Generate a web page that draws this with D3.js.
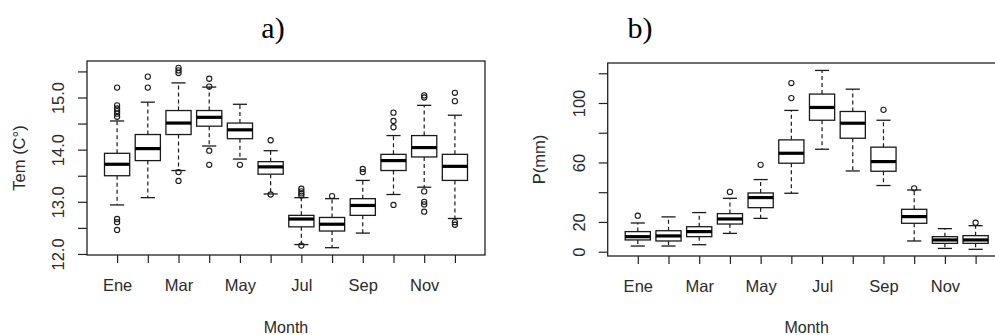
<!DOCTYPE html>
<html>
<head>
<meta charset="utf-8">
<script src="https://cdn.jsdelivr.net/npm/d3@7"></script>
<style>
  html, body { margin: 0; padding: 0; background: #fff; }
  svg { display: block; }
</style>
</head>
<body>
<svg id="chart" width="995" height="335"></svg>
<script>
// ---------- DATA ----------
const months = [1, 2, 3, 4, 5, 6, 7, 8, 9, 10, 11, 12];
const monthLabels = ["Ene", "", "Mar", "", "May", "", "Jul", "", "Sep", "", "Nov", ""];

// a) Temperature (C°)
const tempLow    = [12.94, 13.08, 13.60, 14.07, 13.82, 13.15, 12.18, 12.12, 12.40, 13.14, 13.28, 12.68];
const tempQ1     = [13.50, 13.79, 14.29, 14.45, 14.21, 13.53, 12.52, 12.44, 12.74, 13.60, 13.86, 13.41];
const tempMedian = [13.72, 14.02, 14.51, 14.62, 14.38, 13.67, 12.67, 12.57, 12.93, 13.79, 14.04, 13.68];
const tempQ3     = [13.93, 14.29, 14.75, 14.75, 14.51, 13.77, 12.74, 12.70, 13.06, 13.91, 14.27, 13.91];
const tempHigh   = [14.55, 14.91, 15.28, 15.20, 14.87, 13.98, 13.08, 13.06, 13.41, 14.27, 14.85, 14.66];
const tempOutliers = [
  [15.19, 14.85, 14.79, 14.74, 14.69, 14.63, 12.67, 12.61, 12.46],
  [15.40, 15.19],
  [15.57, 15.52, 15.47, 13.57, 13.40],
  [15.36, 15.21, 13.98, 13.71],
  [13.71],
  [14.18, 13.14],
  [13.25, 13.20, 13.16, 13.12, 12.16],
  [13.11],
  [13.63, 13.57],
  [14.71, 14.55, 14.43, 12.94],
  [15.04, 15.00, 13.20, 13.00, 12.95, 12.81],
  [15.09, 14.93, 12.61, 12.56]
];
const tempTicks = [12.0, 12.5, 13.0, 13.5, 14.0, 14.5, 15.0, 15.5];
const tempTickLabels = ["12.0", "", "13.0", "", "14.0", "", "15.0", ""];

// b) Precipitation (mm)
const precLow    = [3.8, 3.8, 4.7, 12.3, 22.4, 39.3, 68.9, 54.3, 44.5, 7.2, 2.2, 1.6];
const precQ1     = [7.9, 7.2, 10.1, 18.6, 29.6, 59.5, 88.4, 76.3, 54.1, 19.1, 5.6, 5.6];
const precMedian = [10.1, 10.6, 13.5, 22.0, 36.4, 66.2, 97.0, 86.4, 60.6, 23.6, 7.9, 7.9];
const precQ3     = [13.5, 14.1, 16.8, 25.6, 39.5, 75.2, 106.0, 94.3, 70.3, 28.5, 10.1, 10.8];
const precHigh   = [19.3, 23.4, 26.3, 35.9, 48.5, 95.0, 121.9, 109.3, 88.4, 41.5, 15.5, 17.5];
const precOutliers = [
  [24.2], [], [], [40.2], [58.4], [113.4, 103.3], [], [], [95.4], [42.6], [], [19.5]
];
const precTicks = [0, 20, 40, 60, 80, 100, 120];
const precTickLabels = ["0", "20", "", "60", "", "100", ""];

// ---------- DRAW ----------
const svg = d3.select("#chart");
const SANS = "'Liberation Sans', Arial, sans-serif";
const SERIF = "'Liberation Serif', 'Times New Roman', serif";

function panel(opts) {
  const { left, right, top, bottom, yDomain, low, q1, med, q3, high, outliers,
          yTicks, yTickLabels, yTitle, title, titleX } = opts;

  const x = d3.scaleLinear().domain([0.02, 12.98]).range([left, right]);
  const y = d3.scaleLinear().domain(yDomain).range([bottom, top]);
  const g = svg.append("g");
  const ink = "#1a1a1a";
  const halfBox = 0.41, halfStaple = 0.23;

  const rows = months.map((m, i) => ({ m, lo: low[i], q1: q1[i], med: med[i], q3: q3[i], hi: high[i], out: outliers[i] }));

  const bx = g.selectAll("g.box").data(rows).enter().append("g").attr("class", "box");

  // whiskers (dashed)
  bx.append("line")
    .attr("x1", d => x(d.m)).attr("x2", d => x(d.m))
    .attr("y1", d => y(d.q3)).attr("y2", d => y(d.hi))
    .attr("stroke", ink).attr("stroke-width", 1.2).attr("stroke-dasharray", "4,3");
  bx.append("line")
    .attr("x1", d => x(d.m)).attr("x2", d => x(d.m))
    .attr("y1", d => y(d.q1)).attr("y2", d => y(d.lo))
    .attr("stroke", ink).attr("stroke-width", 1.2).attr("stroke-dasharray", "4,3");
  // staples
  bx.append("line")
    .attr("x1", d => x(d.m - halfStaple)).attr("x2", d => x(d.m + halfStaple))
    .attr("y1", d => y(d.hi)).attr("y2", d => y(d.hi))
    .attr("stroke", ink).attr("stroke-width", 1.3);
  bx.append("line")
    .attr("x1", d => x(d.m - halfStaple)).attr("x2", d => x(d.m + halfStaple))
    .attr("y1", d => y(d.lo)).attr("y2", d => y(d.lo))
    .attr("stroke", ink).attr("stroke-width", 1.3);
  // box
  bx.append("rect")
    .attr("x", d => x(d.m - halfBox)).attr("width", d => x(d.m + halfBox) - x(d.m - halfBox))
    .attr("y", d => y(d.q3)).attr("height", d => y(d.q1) - y(d.q3))
    .attr("fill", "#fff").attr("stroke", ink).attr("stroke-width", 1.3);
  // median
  bx.append("line")
    .attr("x1", d => x(d.m - halfBox)).attr("x2", d => x(d.m + halfBox))
    .attr("y1", d => y(d.med)).attr("y2", d => y(d.med))
    .attr("stroke", "#000").attr("stroke-width", 3.2);
  // outliers
  bx.selectAll("circle").data(d => d.out.map(v => ({ m: d.m, v }))).enter().append("circle")
    .attr("cx", d => x(d.m)).attr("cy", d => y(d.v)).attr("r", 2.6)
    .attr("fill", "none").attr("stroke", ink).attr("stroke-width", 1.1);

  // plot frame
  g.append("rect")
    .attr("x", left).attr("y", top).attr("width", right - left).attr("height", bottom - top)
    .attr("fill", "none").attr("stroke", "#222").attr("stroke-width", 1.3);

  // x axis
  const xAxis = d3.axisBottom(x).tickValues(months)
    .tickFormat((d, i) => monthLabels[i]).tickSize(8).tickSizeOuter(0);
  const gx = g.append("g").attr("transform", `translate(0,${bottom})`).call(xAxis);
  gx.select(".domain").remove();
  gx.selectAll("line").attr("stroke", "#222").attr("stroke-width", 1.2);
  gx.selectAll("text").style("font-size", "16.5px").style("font-family", SANS)
    .attr("fill", "#2a2a2a").attr("y", 36).attr("dy", 0);

  // y axis
  const yAxis = d3.axisLeft(y).tickValues(yTicks)
    .tickFormat((d, i) => yTickLabels[i]).tickSize(9).tickSizeOuter(0);
  const gy = g.append("g").attr("transform", `translate(${left},0)`).call(yAxis);
  gy.select(".domain").remove();
  gy.selectAll("line").attr("stroke", "#222").attr("stroke-width", 1.2);
  gy.selectAll("text")
    .style("font-size", "16.5px").style("font-family", SANS).attr("fill", "#2a2a2a")
    .attr("transform", "rotate(-90)")
    .attr("x", 0).attr("y", -23).attr("dy", 0)
    .attr("text-anchor", "middle");

  // y title
  g.append("text")
    .attr("transform", `translate(${left - 62.5},${(top + bottom) / 2}) rotate(-90)`)
    .attr("text-anchor", "middle").style("font-size", "16.5px").style("font-family", SANS)
    .attr("fill", "#2a2a2a")
    .text(yTitle);

  // x title
  g.append("text")
    .attr("x", (left + right) / 2).attr("y", 333)
    .attr("text-anchor", "middle").style("font-size", "16px").style("font-family", SANS)
    .attr("fill", "#2a2a2a")
    .text("Month");

  // panel title
  g.append("text")
    .attr("x", titleX).attr("y", 38)
    .attr("text-anchor", "middle").style("font-size", "30px").style("font-family", SERIF)
    .attr("fill", "#000")
    .text(title);
}

panel({
  left: 87, right: 485, top: 61, bottom: 255, yDomain: [11.98, 15.70],
  low: tempLow, q1: tempQ1, med: tempMedian, q3: tempQ3, high: tempHigh, outliers: tempOutliers,
  yTicks: tempTicks, yTickLabels: tempTickLabels, yTitle: "Tem (C°)", title: "a)", titleX: 273
});

panel({
  left: 607.7, right: 1005.7, top: 63, bottom: 256, yDomain: [-2.9, 126.9],
  low: precLow, q1: precQ1, med: precMedian, q3: precQ3, high: precHigh, outliers: precOutliers,
  yTicks: precTicks, yTickLabels: precTickLabels, yTitle: "P(mm)", title: "b)", titleX: 640
});
</script>
</body>
</html>
